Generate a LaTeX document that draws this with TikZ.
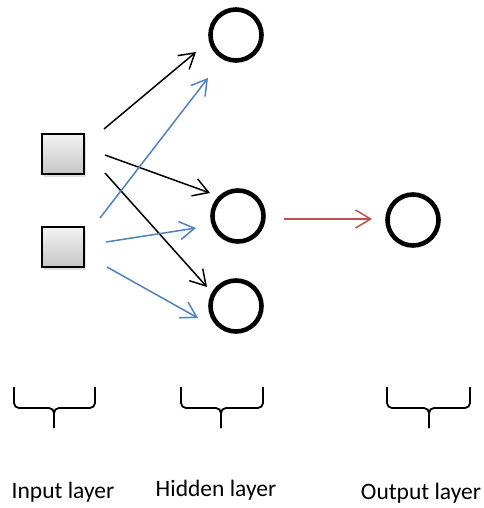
\documentclass[tikz,border=0pt]{standalone}
\usepackage{fontspec}
\setmainfont{Carlito}
\usetikzlibrary{arrows.meta,shadows,calc}
\definecolor{oblue}{RGB}{79,129,189}
\definecolor{ored}{RGB}{192,80,77}
\tikzset{
  inbox/.style={draw=black, line width=1.6pt, minimum width=42pt, minimum height=40pt, inner sep=0pt,
    top color=gray!10, bottom color=gray!45, drop shadow={opacity=0.25, shadow xshift=1.5pt, shadow yshift=-2.5pt}},
  neuron/.style={draw=black, circle, line width=4.6pt, minimum size=51pt, inner sep=0pt},
  conn/.style={line width=1.5pt, -{Straight Barb[length=15pt,width=18pt]}},
  brace/.style={line width=1.8pt, rounded corners=5pt},
  lbl/.style={font=\fontsize{23.5}{28}\selectfont, inner sep=0pt}
}
\begin{document}
\begin{tikzpicture}[x=1pt,y=-1pt]
\useasboundingbox (0,0) rectangle (483,508);
\node[inbox] (s1) at (63,154) {};
\node[inbox] (s2) at (63,247) {};
\node[neuron] (h1) at (236,35) {};
\node[neuron] (h2) at (238,216) {};
\node[neuron] (h3) at (236,306) {};
\node[neuron] (o) at (413,220) {};
% black
\draw[conn] ($(s1)+(41,-25)$) -- ($(h1)+(-40,17)$);
\draw[conn] ($(s1)+(42,1)$) -- ($(h2)+(-28,-23)$);
\draw[conn] ($(s1)+(42,19)$) -- ($(h3)+(-29,-19)$);
% blue
\draw[conn, oblue] ($(s2)+(37,-29)$) -- ($(h1)+(-28,43)$);
\draw[conn, oblue] ($(s2)+(43,-5)$) -- ($(h2)+(-42,12)$);
\draw[conn, oblue] ($(s2)+(44,20)$) -- ($(h3)+(-38,12)$);
% red
\draw[conn, ored] ($(h2)+(46,3)$) -- ($(o)+(-41,-1)$);
% braces
\draw[brace] (14,387) -- (14,408) -- (54,408) -- (54,428);
\draw[brace] (95,387) -- (95,408) -- (54,408) -- (54,428);
\draw[brace] (181,387) -- (181,408) -- (221,408) -- (221,428);
\draw[brace] (263,387) -- (263,408) -- (221,408) -- (221,428);
\draw[brace] (387,387) -- (387,408) -- (429,408) -- (429,428);
\draw[brace] (470,387) -- (470,408) -- (429,408) -- (429,428);
% labels
\node[lbl] (li) at (63,492) {Input layer};
\node[lbl] (lh) at (216,490) {Hidden layer};
\node[lbl] (lo) at (421,493) {Output layer};
\end{tikzpicture}
\end{document}
